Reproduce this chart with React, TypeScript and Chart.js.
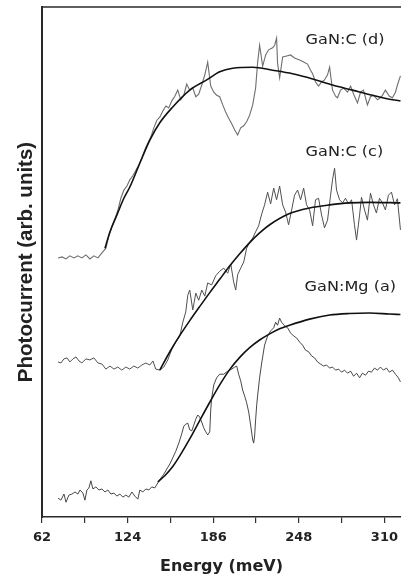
import React, { useEffect, useRef } from 'react';
import { Chart, registerables } from 'chart.js';

Chart.register(...registerables);

// ---- axis ticks ----
const X_TICKS = [62, 93, 124, 155, 186, 217, 248, 279, 310];
const X_LABELED = [62, 124, 186, 248, 310];

// ---- GaN:C (d) measured ----
const D_ENERGY = [73.6,76.5,79.4,82.2,85.1,88.0,90.9,93.8,96.7,99.6,102.5,105.4,108.3,110.4,112.6,114.8,117.0,119.1,121.3,123.5,125.6,127.8,130.0,132.1,134.3,136.5,138.6,140.8,143.0,145.2,147.3,149.5,151.7,153.8,156.0,158.2,160.3,162.5,164.7,166.8,169.0,171.2,173.4,175.5,177.7,179.9,182.0,184.2,186.4,188.5,190.7,192.9,195.0,197.2,199.4,201.6,203.7,205.9,208.1,210.2,212.4,214.6,216.7,218.2,219.6,221.8,224.0,226.1,229.0,230.5,231.9,232.6,234.1,236.3,239.2,242.0,244.9,248.6,251.5,254.3,256.5,258.0,260.1,262.3,264.5,266.6,268.8,270.3,272.4,274.6,276.0,278.2,280.4,283.3,285.5,287.7,290.5,292.7,294.8,297.7,299.9,302.1,305.0,307.9,310.7,313.6,315.8,318.0,319.4,321.6];
const D_SIGNAL = [50.8,51.0,50.6,51.2,50.8,51.2,50.8,51.4,50.6,51.2,50.8,51.8,52.7,55.1,56.9,58.4,60.2,62.5,64.1,64.9,66.1,66.9,68.0,69.0,70.4,72.0,73.3,74.5,76.3,77.8,78.4,79.6,80.6,80.2,81.6,82.5,83.7,81.8,82.7,84.9,83.7,84.1,82.4,82.9,84.7,86.7,89.2,84.5,83.3,82.7,82.4,80.8,79.4,78.2,77.1,75.9,74.9,76.3,76.7,77.5,78.8,80.8,84.1,89.2,92.5,88.4,90.6,91.6,92.0,92.5,93.9,89.0,86.1,90.2,90.4,90.6,90.0,89.6,89.2,88.8,87.6,86.9,85.3,84.5,85.3,85.7,86.7,88.2,83.7,82.5,82.2,83.7,84.1,83.3,84.5,82.9,81.2,83.3,83.7,80.8,82.4,82.7,81.8,82.4,83.7,82.5,82.2,83.3,84.7,86.5];

// ---- GaN:C (d) fit ----
const D_FIT_ENERGY = [107.6,111.2,116.2,121.3,125.6,132.9,140.1,147.3,156.7,169.0,181.3,190.7,200.1,214.6,229.0,243.5,258.0,272.4,286.9,301.3,315.8,321.6];
const D_FIT_SIGNAL = [52.7,55.9,59.2,62.5,64.7,69.4,73.9,77.3,80.4,83.7,85.7,87.3,88.0,88.2,87.6,86.9,85.9,84.7,83.7,82.7,81.8,81.6];

// ---- GaN:C (c) measured ----
const C_ENERGY = [73.6,75.7,77.9,80.1,82.2,84.4,86.6,88.8,90.9,93.8,96.7,99.6,102.5,105.4,108.3,111.2,114.1,116.9,119.8,122.7,125.6,128.5,131.4,134.3,137.2,140.1,142.3,144.4,147.3,150.2,153.1,156.0,158.9,161.8,164.0,166.1,167.6,169.0,171.2,173.4,175.5,177.7,179.9,182.0,184.9,187.8,190.7,193.6,196.5,198.7,200.8,202.3,203.7,205.9,208.1,210.2,212.4,214.6,216.7,218.9,221.1,223.2,225.4,227.6,229.8,231.9,234.1,236.3,238.4,240.6,242.8,244.9,247.1,249.3,251.5,253.6,255.8,258.0,260.1,262.3,264.5,266.6,268.8,271.0,272.4,273.9,275.3,277.5,279.7,281.8,284.0,286.2,288.3,289.8,292.0,293.4,295.6,297.7,299.9,302.1,304.2,306.4,308.6,310.7,312.9,315.1,317.3,319.4,321.6];
const C_SIGNAL = [30.4,30.2,31.0,31.2,30.4,31.0,31.4,30.6,30.2,31.0,30.8,31.2,30.2,30.0,29.0,29.6,29.0,29.4,28.8,29.4,29.0,29.6,29.2,29.8,30.2,29.8,30.6,29.0,28.8,29.4,30.8,32.9,34.3,35.5,38.2,40.2,43.5,44.5,40.6,43.9,42.5,44.5,43.3,45.9,45.5,47.3,48.2,48.8,47.8,49.6,46.1,44.5,47.5,48.8,50.0,52.7,53.9,54.7,55.9,57.1,59.4,61.2,63.7,61.4,64.5,62.2,64.9,61.2,59.8,57.3,60.2,63.1,64.1,62.2,64.5,61.2,60.2,57.1,62.2,62.5,59.2,56.7,58.2,63.1,66.1,68.4,64.1,62.2,61.6,62.5,61.4,62.2,57.3,54.3,59.2,62.7,60.2,58.2,63.5,61.2,59.6,62.5,61.6,60.2,63.1,63.7,61.2,62.4,56.3];

// ---- GaN:C (c) fit ----
const C_FIT_ENERGY = [147.3,154.6,161.8,169.0,176.3,183.5,190.7,197.9,205.2,212.4,219.6,226.9,241.3,255.8,270.3,284.7,299.2,321.6];
const C_FIT_SIGNAL = [28.8,32.4,35.6,38.5,41.3,44.0,46.6,49.2,51.6,53.8,55.7,57.3,59.5,60.6,61.2,61.6,61.7,61.6];

// ---- GaN:Mg (a) measured ----
const A_ENERGY = [73.6,75.7,77.9,79.4,81.5,83.7,85.9,88.0,89.5,91.6,93.1,94.5,96.0,97.4,98.9,101.0,103.2,105.4,107.6,109.7,111.9,114.1,116.2,118.4,120.6,122.7,124.9,127.1,129.2,131.4,132.9,135.0,137.2,139.4,141.5,143.7,145.9,148.0,150.2,152.4,154.6,156.7,158.9,161.1,163.2,164.7,166.1,167.6,169.0,170.5,171.9,173.4,174.8,176.2,177.7,179.1,180.6,182.0,183.5,184.2,184.9,186.4,188.5,190.7,193.6,196.5,199.4,201.6,203.0,204.4,205.9,207.3,208.8,210.2,211.7,213.1,214.6,215.3,216.0,216.7,217.5,218.2,219.6,221.1,223.2,225.4,227.6,229.8,231.2,232.6,234.1,235.5,237.7,239.9,242.0,244.2,246.4,248.6,250.7,252.9,255.1,257.2,259.4,261.6,263.7,265.9,268.1,270.3,272.4,274.6,276.8,279.0,281.1,283.3,285.5,287.7,289.8,292.0,294.1,296.3,298.5,300.6,302.8,305.0,307.1,309.3,311.5,313.6,315.8,318.0,320.1,321.6];
const A_SIGNAL = [3.7,3.3,4.5,2.9,4.3,4.5,4.9,4.5,5.3,4.7,3.3,5.3,5.7,7.1,5.5,5.9,5.3,5.5,4.9,5.3,4.5,4.7,4.1,4.5,3.9,4.3,3.9,4.9,4.1,3.5,5.3,4.9,5.5,5.3,5.9,5.7,6.7,7.6,8.4,9.4,10.4,11.6,12.9,14.5,16.3,17.8,18.2,18.4,17.1,16.9,18.0,19.2,20.0,19.6,18.6,17.5,16.7,16.1,16.7,21.0,23.3,25.9,27.3,28.0,28.0,28.6,29.0,29.4,29.6,28.0,26.7,24.9,23.7,22.4,20.6,18.0,15.1,14.5,15.9,19.0,22.0,23.9,27.3,30.2,33.7,35.5,36.5,37.1,38.2,37.6,39.0,38.2,37.5,37.1,36.1,35.5,35.1,34.3,33.7,32.7,32.4,31.6,31.2,30.4,30.0,29.6,29.8,29.2,29.4,28.8,29.0,28.4,28.8,28.2,28.6,27.6,28.2,27.3,28.2,27.8,28.6,28.4,29.2,28.8,29.4,28.8,29.2,28.4,28.8,28.0,27.3,26.5];

// ---- GaN:Mg (a) fit ----
const A_FIT_ENERGY = [145.9,150.9,156.7,161.8,169.0,176.2,183.5,190.7,197.9,205.2,212.4,219.6,226.9,234.1,241.3,255.8,270.3,284.7,299.2,313.6,321.6];
const A_FIT_SIGNAL = [6.9,8.1,9.9,12.0,15.3,18.9,22.5,25.9,28.9,31.3,33.2,34.7,35.9,36.9,37.6,38.8,39.6,39.9,40.0,39.8,39.7];

// ---- curve labels ----
const CURVE_LABELS = ['GaN:C (d)', 'GaN:C (c)', 'GaN:Mg (a)'];
const CURVE_LABEL_ENERGY = [252.9, 252.9, 252.2];
const CURVE_LABEL_SIGNAL = [92.8, 70.8, 44.4];

function toPoints(xs: number[], ys: number[]) {
  return xs.map((x, i) => ({ x, y: ys[i] }));
}

const overlayPlugin = {
  id: 'overlay',
  afterDatasetsDraw(chart: any) {
    const { ctx, chartArea, scales } = chart;
    const xs = scales.x;
    const ys = scales.y;
    ctx.save();
    ctx.strokeStyle = '#2a2a2a';
    ctx.lineWidth = 1.5;
    ctx.beginPath();
    ctx.moveTo(chartArea.left, chartArea.top);
    ctx.lineTo(chartArea.right, chartArea.top);
    ctx.stroke();
    ctx.fillStyle = '#222';
    ctx.font = "14px 'DejaVu Sans'";
    ctx.textBaseline = 'alphabetic';
    ctx.textAlign = 'left';
    CURVE_LABELS.forEach((t, i) => {
      const px = xs.getPixelForValue(CURVE_LABEL_ENERGY[i]);
      const py = ys.getPixelForValue(CURVE_LABEL_SIGNAL[i]);
      ctx.save();
      ctx.translate(px, py);
      ctx.scale(1.15, 1);
      ctx.fillText(t, 0, 0);
      ctx.restore();
    });
    ctx.restore();
  },
};

export default function App() {
  const ref = useRef<HTMLCanvasElement | null>(null);

  useEffect(() => {
    if (!ref.current) return;
    const dataStyle = (color: string, width: number) => ({
      borderColor: color,
      borderWidth: width,
      pointRadius: 0,
      tension: 0,
      fill: false,
      order: 1,
    });
    const fitStyle = {
      borderColor: '#111',
      borderWidth: 1.6,
      pointRadius: 0,
      tension: 0.4,
      cubicInterpolationMode: 'monotone' as const,
      fill: false,
      order: 0,
    };
    const chart = new Chart(ref.current, {
      type: 'line',
      data: {
        datasets: [
          { label: 'fit d', data: toPoints(D_FIT_ENERGY, D_FIT_SIGNAL), ...fitStyle },
          { label: 'fit c', data: toPoints(C_FIT_ENERGY, C_FIT_SIGNAL), ...fitStyle },
          { label: 'fit a', data: toPoints(A_FIT_ENERGY, A_FIT_SIGNAL), ...fitStyle },
          { label: 'GaN:C (d)', data: toPoints(D_ENERGY, D_SIGNAL), ...dataStyle('#6e6e6e', 1.1) },
          { label: 'GaN:C (c)', data: toPoints(C_ENERGY, C_SIGNAL), ...dataStyle('#505050', 1) },
          { label: 'GaN:Mg (a)', data: toPoints(A_ENERGY, A_SIGNAL), ...dataStyle('#333', 0.9) },
        ],
      },
      options: {
        animation: false,
        responsive: false,
        devicePixelRatio: 1,
        layout: { padding: { top: 7, right: 0, bottom: 0, left: 0 } },
        plugins: { legend: { display: false }, tooltip: { enabled: false } },
        scales: {
          x: {
            type: 'linear',
            min: 62,
            max: 322,
            afterBuildTicks: (scale: any) => {
              scale.ticks = X_TICKS.map((v) => ({ value: v }));
            },
            afterFit: (scale: any) => {
              scale.height = 59;
              scale.paddingLeft = 0;
              scale.paddingRight = 0;
            },
            ticks: {
              autoSkip: false,
              maxRotation: 0,
              padding: 7,
              color: '#222',
              font: { family: "'DejaVu Sans'", size: 13, weight: 'bold' },
              callback: (v: any) => (X_LABELED.includes(Number(v)) ? String(v) : ''),
            },
            grid: { drawOnChartArea: false, drawTicks: true, tickLength: 6, color: '#333', lineWidth: 1.2 },
            border: { display: true, color: '#2a2a2a', width: 1.5 },
            title: {
              display: true,
              text: 'Energy (meV)',
              color: '#222',
              font: { family: "'DejaVu Sans'", size: 16, weight: 'bold' },
              padding: { top: 0, bottom: 0 },
            },
          },
          y: {
            type: 'linear',
            min: 0,
            max: 100,
            afterFit: (scale: any) => {
              scale.width = 42;
            },
            ticks: { display: false },
            grid: { display: false },
            border: { display: true, color: '#2a2a2a', width: 2 },
            title: {
              display: true,
              text: 'Photocurrent (arb. units)',
              color: '#222',
              font: { family: "'Liberation Sans'", size: 20.5, weight: 'bold' },
              padding: { top: 13.7, bottom: 0 },
            },
          },
        },
      },
      plugins: [overlayPlugin],
    } as any);
    return () => chart.destroy();
  }, []);

  return (
    <div style={{ position: 'absolute', left: 0, top: 0, width: 401, height: 576, background: '#fff' }}>
      <canvas ref={ref} width={401} height={576} style={{ display: 'block' }} />
    </div>
  );
}
